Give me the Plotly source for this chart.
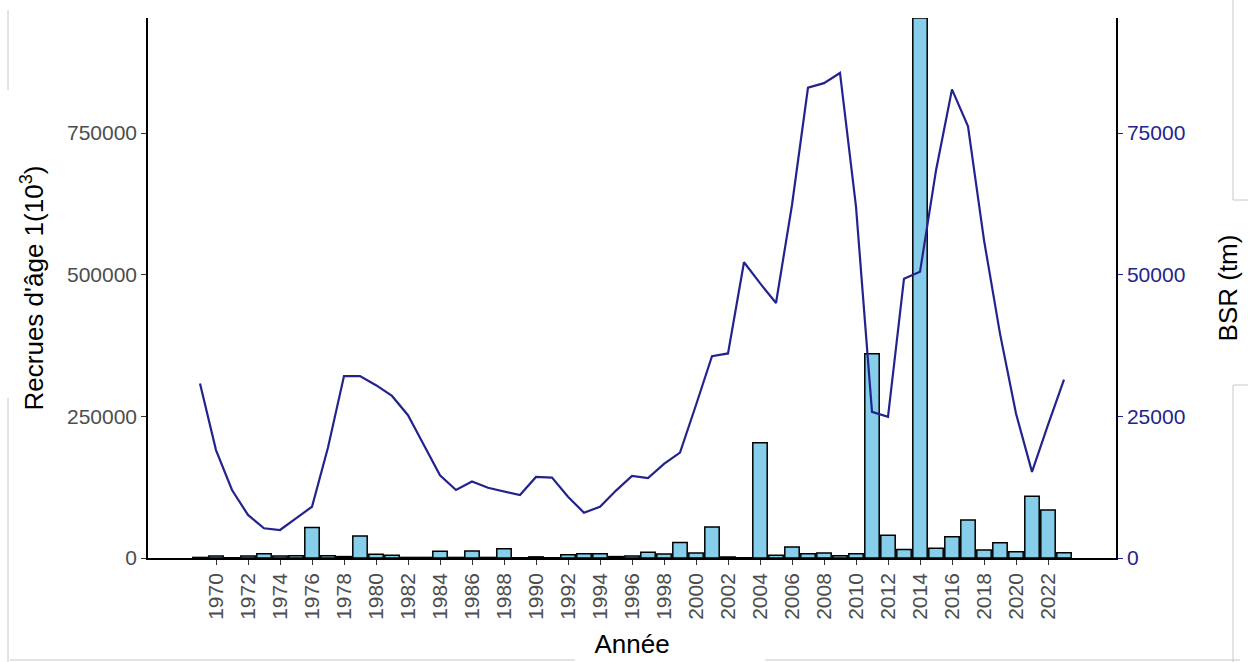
import plotly.graph_objects as go

years = list(range(1969, 2024))

recrues = [1000, 3500, 500, 3500, 7600, 3500, 4000, 53700, 4000, 2500,
           38800, 6500, 4700, 1000, 1000, 11800, 1000, 12300, 1000, 16500,
           500, 2000, 500, 5800, 7600, 7600, 2500, 3500, 10000, 7000,
           27500, 9000, 54700, 1800, 500, 203600, 4700, 19400, 7500, 8800,
           4100, 7500, 360600, 40000, 14800, 953000, 17000, 37600, 67000, 14100,
           27000, 11100, 109000, 84700, 9400]

bsr = [30800, 19050, 12000, 7600, 5240, 4940, 7000, 9050, 19500, 32100,
       32100, 30500, 28600, 25200, 19900, 14600, 12000, 13500, 12400, 11700,
       11100, 14300, 14200, 10800, 8000, 9050, 11900, 14500, 14100, 16600,
       18600, 27000, 35600, 36100, 52200, 48500, 45000, 62300, 83000, 83800,
       85600, 62000, 25800, 24900, 49300, 50500, 68400, 82700, 76200, 56100,
       39600, 25500, 15200, 23500, 31500]

xticks = list(range(1970, 2023, 2))
left_ticks = [0, 250000, 500000, 750000]
right_ticks = [0, 25000, 50000, 75000]

NAVY = "#23238e"
GREY = "#4d4d4d"

fig = go.Figure()
fig.add_trace(go.Bar(x=years, y=recrues, width=0.9,
                     marker=dict(color="#87ceeb", line=dict(color="black", width=1.5)),
                     yaxis="y", showlegend=False))
fig.add_trace(go.Scatter(x=years, y=bsr, mode="lines",
                         line=dict(color=NAVY, width=2.2),
                         yaxis="y2", showlegend=False))

font = "Liberation Sans, Arial, sans-serif"
fig.update_layout(
    width=1248, height=662,
    margin=dict(l=148, r=132, t=18, b=104),
    plot_bgcolor="white", paper_bgcolor="white",
    font=dict(family=font),
    xaxis=dict(range=[1965.75, 2026.25], tickvals=xticks, ticktext=[str(t) for t in xticks],
               tickangle=-90, ticks="outside", ticklen=5, tickcolor="#333333", tickwidth=1.2,
               tickfont=dict(size=21, color=GREY), showgrid=False, zeroline=False,
               showline=True, linecolor="black", linewidth=1.5, automargin=False,
               title=dict(text="Année", font=dict(size=26, color="black"), standoff=16)),
    yaxis=dict(range=[0, 953000], tickvals=left_ticks, ticktext=[str(t) for t in left_ticks],
               ticks="outside", ticklen=5, tickcolor="#333333", tickwidth=1.2,
               tickfont=dict(size=21, color=GREY), showgrid=False, zeroline=False,
               showline=True, linecolor="black", linewidth=1.5, automargin=False,
               title=dict(text="Recrues d'âge 1(10<sup>3</sup>)", font=dict(size=26, color="black"), standoff=16)),
    yaxis2=dict(range=[0, 95300], tickvals=right_ticks, ticktext=[str(t) for t in right_ticks],
                overlaying="y", side="right",
                ticks="outside", ticklen=5, tickcolor=NAVY, tickwidth=1.2,
                tickfont=dict(size=21, color=NAVY), showgrid=False, zeroline=False,
                showline=True, linecolor="black", linewidth=1.5, automargin=False,
                title=dict(text="BSR (tm)", font=dict(size=26, color="black"), standoff=34)),
)

# light frame fragments visible around the original screenshot
frag = dict(type="line", xref="paper", yref="paper", line=dict(color="#c8c8c8", width=1))
def px(x): return (x - 148) / (1248 - 148 - 132)
def py(y): return (558 - y) / (558 - 18)
for x0, y0, x1, y1 in [(8, 10, 8, 90), (8, 398, 8, 662), (10, 660, 575, 660), (765, 660, 1240, 660),
                       (1233, 0, 1233, 200), (1233, 200, 1248, 200), (1233, 385, 1248, 385), (1233, 385, 1233, 662)]:
    fig.add_shape(x0=px(x0), y0=py(y0), x1=px(x1), y1=py(y1), **frag)

fig.write_html("out.html")
